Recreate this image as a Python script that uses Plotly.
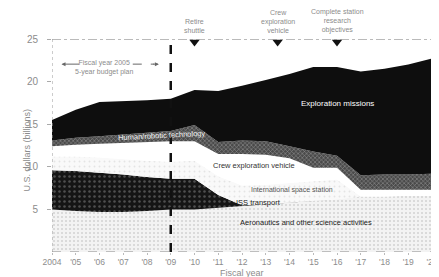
import plotly.graph_objects as go

years = list(range(2004, 2021))
tick_labels = ["2004", "'05", "'06", "'07", "'08", "'09", "'10", "'11", "'12",
               "'13", "'14", "'15", "'16", "'17", "'18", "'19", "'20"]

aeronautics = [5.0, 4.8, 4.7, 4.7, 4.8, 5.0, 5.0, 5.2, 5.4, 5.6, 5.8, 6.0, 6.2, 6.5, 6.5, 6.6, 6.6]
iss_transport = [4.6, 4.7, 4.6, 4.4, 4.0, 3.6, 3.6, 1.5, 0.1, 0, 0, 0, 0, 0, 0, 0, 0]
iss = [1.6, 1.7, 1.8, 1.8, 1.9, 2.0, 2.1, 2.2, 2.3, 2.3, 2.3, 2.3, 2.3, 0, 0, 0, 0]
cev = [1.2, 1.4, 1.6, 1.9, 2.2, 2.4, 2.3, 2.6, 3.7, 3.5, 2.9, 1.6, 1.4, 0.8, 0.8, 0.7, 0.7]
human_robotic = [0.7, 0.8, 0.9, 1.0, 1.1, 1.2, 1.9, 1.4, 1.6, 1.6, 1.4, 1.9, 1.4, 1.7, 1.8, 1.8, 1.9]
exploration = [2.4, 3.3, 4.0, 3.9, 3.8, 3.8, 4.1, 6.0, 6.4, 7.2, 8.5, 9.9, 10.4, 12.2, 12.4, 12.9, 13.5]

milestone_years = [2010, 2013.5, 2016]
milestone_labels = ["Retire<br>shuttle", "Crew<br>exploration<br>vehicle",
                    "Complete station<br>research<br>objectives"]
budget_plan_end = 2009

FONT = "Liberation Sans, Arial, sans-serif"
GRAY = "#8c8c8c"

fig = go.Figure()

layers = [
    ("Aeronautics and other science activities", aeronautics,
     dict(shape=".", bgcolor="#f3f3f3", fgcolor="#b0b0b0", size=4, solidity=0.2)),
    ("ISS transport", iss_transport,
     dict(shape=".", bgcolor="#151515", fgcolor="#8a8a8a", size=5, solidity=0.2)),
    ("International space station", iss,
     dict(shape=".", bgcolor="#f9f9f9", fgcolor="#cfcfcf", size=5, solidity=0.12)),
    ("Crew exploration vehicle", cev, None),
    ("Human/robotic technology", human_robotic,
     dict(shape="x", bgcolor="#4a4a4a", fgcolor="#d0d0d0", size=3, solidity=0.35)),
    ("Exploration missions", exploration, None),
]
solid = {"Crew exploration vehicle": "#ffffff", "Exploration missions": "#0e0e0e"}

for name, vals, pat in layers:
    kw = dict(x=years, y=vals, name=name, mode="lines", stackgroup="one",
              line=dict(width=0), hoverinfo="skip", showlegend=False)
    if pat is None:
        kw["fillcolor"] = solid[name]
    else:
        kw["fillcolor"] = pat["bgcolor"]
        kw["fillpattern"] = pat
    fig.add_trace(go.Scatter(**kw))

# milestone triangles
fig.add_trace(go.Scatter(x=milestone_years, y=[24.65] * 3, mode="markers",
                         marker=dict(symbol="triangle-down", size=9, color="#111"),
                         showlegend=False, hoverinfo="skip"))

# frame lines
fig.add_shape(type="line", x0=2004, x1=2020, y0=25, y1=25,
              line=dict(color="#777", width=1, dash="dashdot"))
fig.add_shape(type="line", x0=2004, x1=2004, y0=0, y1=25,
              line=dict(color="#999", width=1, dash="dot"))
fig.add_shape(type="line", x0=2020, x1=2020, y0=0, y1=25,
              line=dict(color="#aaa", width=1, dash="dot"))
fig.add_shape(type="line", x0=2004, x1=2020, y0=0, y1=0,
              line=dict(color="#888", width=1, dash="dash"))
# budget plan divider
fig.add_shape(type="line", x0=budget_plan_end, x1=budget_plan_end, y0=0, y1=25,
              line=dict(color="#111", width=2.5, dash="dash"))

# milestone labels
for xm, lab_txt in zip(milestone_years, milestone_labels):
    fig.add_annotation(x=xm, y=1.012, xref="x", yref="paper", text=lab_txt,
                       showarrow=False, yanchor="bottom",
                       font=dict(family=FONT, size=7, color=GRAY), align="center")

# fiscal year 2005 plan annotation
fig.add_annotation(x=2006.2, y=21.6, xref="x", yref="y",
                   text="Fiscal year 2005<br>5-year budget plan", showarrow=False,
                   font=dict(family=FONT, size=7, color=GRAY), align="center")
fig.add_annotation(x=2004.4, y=22.05, ax=2005.2, ay=22.05, xref="x", yref="y",
                   axref="x", ayref="y", text="", showarrow=True, arrowhead=2,
                   arrowsize=0.8, arrowwidth=1, arrowcolor="#666")
fig.add_shape(type="line", x0=2007.4, x1=2008.3, y0=22.05, y1=22.05,
              line=dict(color="#666", width=1, dash="dash"))
fig.add_annotation(x=2008.5, y=22.05, ax=2008.2, ay=22.05, xref="x", yref="y",
                   axref="x", ayref="y", text="", showarrow=True, arrowhead=2,
                   arrowsize=0.8, arrowwidth=1, arrowcolor="#666")

# layer labels
def lab(text, x, y, color, size=7.5, angle=0):
    fig.add_annotation(x=x, y=y, xref="x", yref="y", text=text, showarrow=False,
                       textangle=angle,
                       font=dict(family=FONT, size=size, color=color))

lab("Exploration missions", 2016.0, 17.4, "#ffffff", 8)
lab("Human/robotic technology", 2008.6, 13.7, "#f2f2f2", 7.5, -3)
lab("Crew exploration vehicle", 2012.5, 10.2, "#333333", 7.5)
lab("International space station", 2014.1, 7.3, "#555555", 7)
lab("ISS transport", 2012.7, 5.8, "#222222", 7.5)
lab("Aeronautics and other science activities", 2014.7, 3.5, "#222222", 7.5)

# axis titles
fig.add_annotation(x=-0.085, y=0.48, xref="paper", yref="paper",
                   text="U.S. dollars (billions)", showarrow=False, textangle=-90,
                   font=dict(family=FONT, size=9, color=GRAY))
fig.add_annotation(x=0.5, y=-0.1, xref="paper", yref="paper",
                   text="Fiscal year", showarrow=False, yanchor="middle",
                   font=dict(family=FONT, size=9, color=GRAY))

fig.update_xaxes(range=[2004, 2020], tickvals=years, ticktext=tick_labels,
                 showgrid=False, zeroline=False, showline=False,
                 ticks="outside", ticklen=2, tickcolor="#bbb",
                 ticklabelstandoff=0,
                 tickfont=dict(family=FONT, size=8.5, color=GRAY))
fig.update_yaxes(range=[0, 25], tickvals=[5, 10, 15, 20, 25],
                 showgrid=False, zeroline=False, showline=False,
                 ticks="outside", ticklen=4, tickcolor="#aaa",
                 ticklabelstandoff=7,
                 tickfont=dict(family=FONT, size=10, color=GRAY))

fig.update_layout(width=439, height=277, margin=dict(l=44, r=9, t=31, b=33),
                  paper_bgcolor="white", plot_bgcolor="white")

fig.write_html("out.html")
